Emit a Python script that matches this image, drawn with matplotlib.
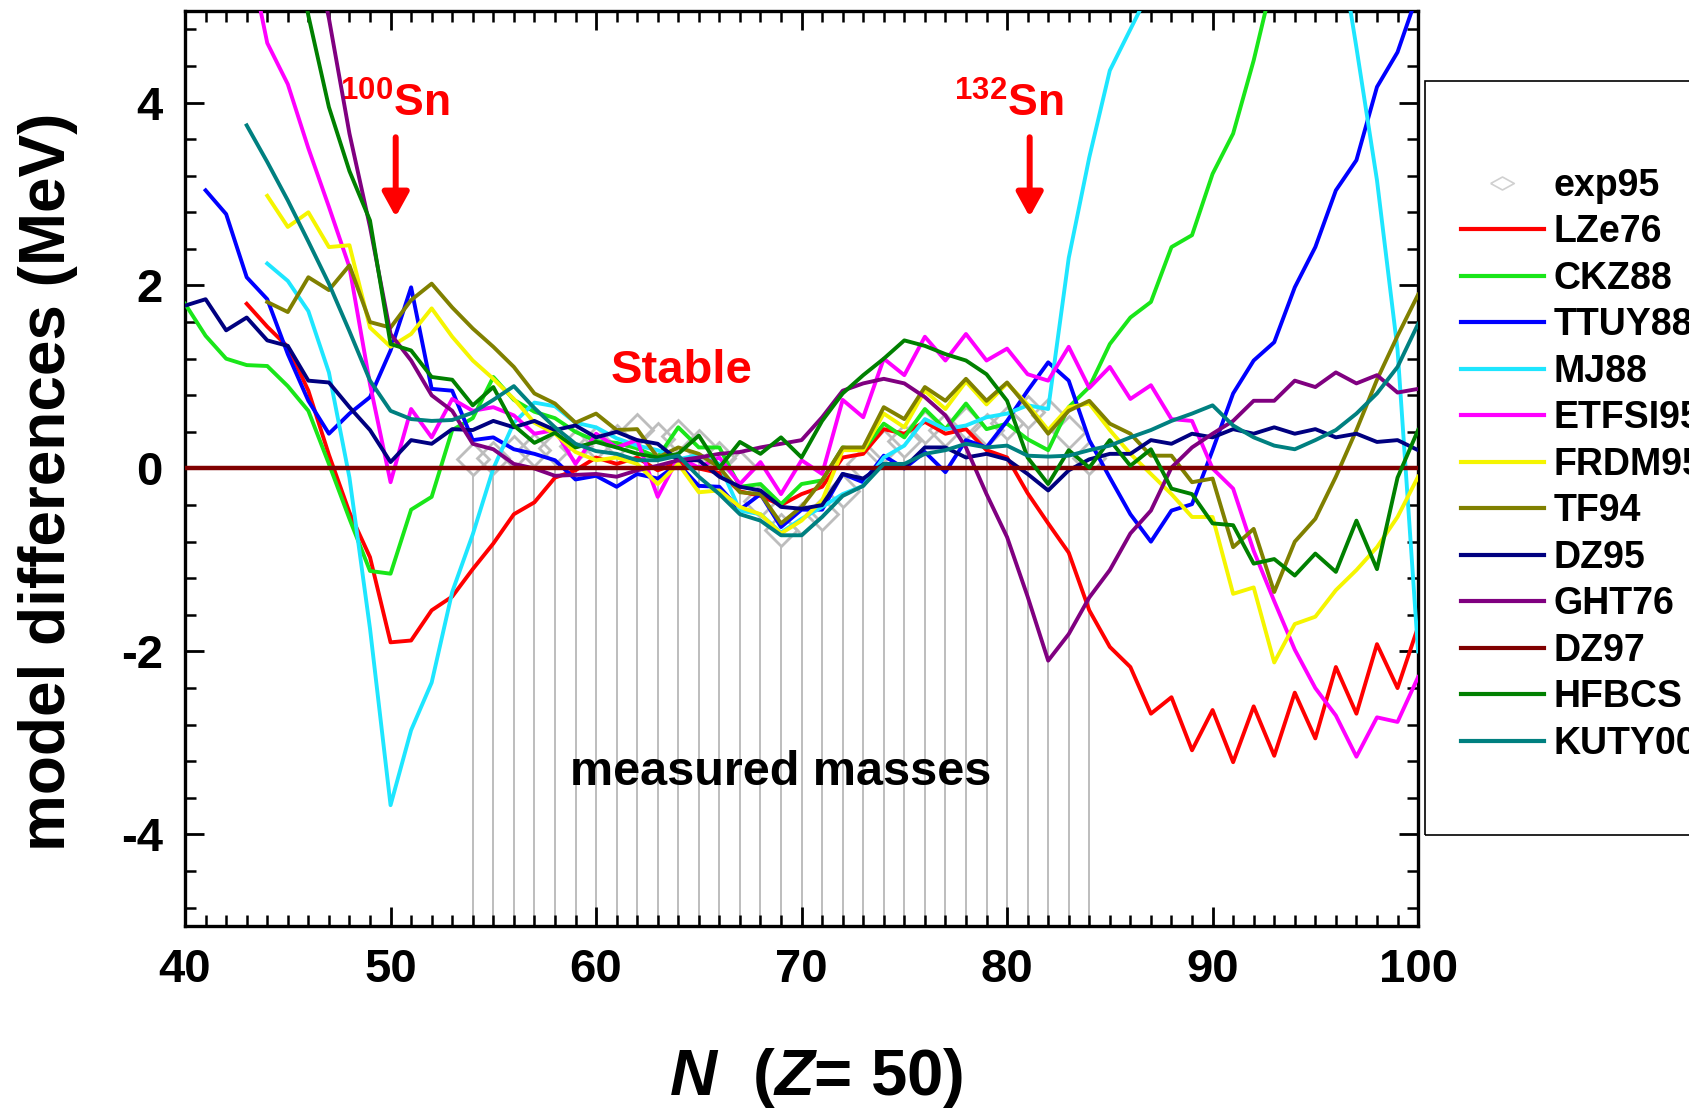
import numpy as np
import matplotlib
matplotlib.use("Agg")
import matplotlib.pyplot as plt
from matplotlib.lines import Line2D
from matplotlib.patches import Rectangle
from matplotlib.ticker import MultipleLocator

plt.rcParams["font.family"] = ["Liberation Sans", "DejaVu Sans"]
plt.rcParams["font.weight"] = "bold"
plt.rcParams["axes.unicode_minus"] = False
plt.rcParams["mathtext.fontset"] = "custom"
plt.rcParams["mathtext.rm"] = "Liberation Sans:bold"
plt.rcParams["mathtext.it"] = "Liberation Sans:bold:italic"
plt.rcParams["mathtext.bf"] = "Liberation Sans:bold"

# measured masses relative to DZ97 (MeV), N = 54..84
exp95_start = 54
exp95 = [0.10, 0.12, 0.18, 0.20, 0.22, 0.25,
         0.28, 0.30, 0.42, 0.32, 0.36, 0.25, 0.12, 0.02, -0.35, -0.67,
         -0.55, -0.50, -0.25, 0.05, 0.25, 0.30, 0.45, 0.42, 0.50, 0.42,
         0.50, 0.62, 0.58, 0.40, 0.12]

# model differences relative to DZ97 (MeV); each list starts at its N and runs up by 1
lze76_start = 43
lze76 = [1.80, 1.55, 1.33, 0.85, 0.15, -0.48, -0.97,
         -1.90, -1.88, -1.55, -1.40, -1.10, -0.82, -0.50, -0.37, -0.10, -0.02,
         0.12, 0.05, 0.12, -0.02, 0.06, 0.00, -0.05, -0.25, -0.30, -0.40,
         -0.28, -0.20, 0.12, 0.16, 0.43, 0.38, 0.51, 0.38, 0.43, 0.20,
         0.12, -0.27, -0.60, -0.92, -1.55, -1.95, -2.17, -2.68, -2.50, -3.08,
         -2.64, -3.21, -2.60, -3.14, -2.45, -2.95, -2.17, -2.68, -1.92, -2.40, -1.73]

ckz88_start = 40
ckz88 = [1.80, 1.45, 1.20, 1.13, 1.12, 0.90, 0.63, 0.05, -0.55, -1.12,
         -1.15, -0.45, -0.31, 0.42, 0.55, 1.00, 0.75, 0.62, 0.55, 0.40,
         0.30, 0.28, 0.22, 0.12, 0.45, 0.23, 0.23, -0.20, -0.17, -0.39,
         -0.17, -0.13, 0.23, 0.20, 0.49, 0.34, 0.65, 0.43, 0.71, 0.43,
         0.49, 0.32, 0.20, 0.67, 0.89, 1.36, 1.65, 1.82, 2.42, 2.55,
         3.22, 3.66, 4.46, 5.40]

ttuy88_start = 41
ttuy88 = [3.04, 2.78, 2.09, 1.85, 1.25, 0.74, 0.38, 0.60, 0.78,
          1.29, 1.98, 0.87, 0.85, 0.31, 0.34, 0.21, 0.16, 0.09, -0.12,
          -0.08, -0.20, -0.06, -0.11, 0.05, -0.19, -0.20, -0.45, -0.28, -0.64,
          -0.45, -0.45, -0.06, -0.15, 0.14, 0.00, 0.18, -0.04, 0.31, 0.23,
          0.52, 0.85, 1.16, 0.96, 0.31, -0.10, -0.50, -0.80, -0.46, -0.39,
          0.20, 0.82, 1.18, 1.38, 1.98, 2.42, 3.04, 3.37, 4.17, 4.55, 5.20]

mj88_start = 44
mj88 = [2.24, 2.05, 1.72, 1.05, -0.10, -1.75,
        -3.68, -2.86, -2.34, -1.35, -0.72, 0.00, 0.50, 0.72, 0.68, 0.50,
        0.45, 0.33, 0.25, 0.20, 0.10, 0.15, 0.05, -0.46, -0.50, -0.70,
        -0.55, -0.42, -0.28, -0.19, 0.12, 0.25, 0.54, 0.43, 0.47, 0.56,
        0.60, 0.69, 0.65, 2.30, 3.40, 4.35, 4.80, 5.25, 5.80, 6.20,
        6.50, 6.70, 6.80, 6.80, 6.70, 6.50, 6.00, 4.60, 3.15, 1.30, -2.00]

etfsi_start = 43
etfsi = [5.75, 4.65, 4.20, 3.50, 2.86, 2.20, 0.92,
         -0.15, 0.65, 0.34, 0.76, 0.63, 0.67, 0.58, 0.38, 0.42, 0.05,
         0.38, 0.23, 0.31, -0.31, 0.12, 0.01, 0.12, -0.17, 0.07, -0.28,
         0.09, -0.06, 0.75, 0.56, 1.20, 1.02, 1.44, 1.18, 1.47, 1.18,
         1.31, 1.03, 0.96, 1.33, 0.88, 1.11, 0.76, 0.91, 0.54, 0.52,
         0.00, -0.22, -0.90, -1.45, -1.98, -2.40, -2.70, -3.15, -2.72, -2.77, -2.28]

frdm_start = 44
frdm = [2.98, 2.64, 2.80, 2.42, 2.44, 1.54,
        1.33, 1.47, 1.75, 1.44, 1.18, 0.98, 0.76, 0.50, 0.38, 0.18,
        0.09, 0.12, 0.05, -0.17, 0.05, -0.26, -0.24, -0.42, -0.50, -0.71,
        -0.57, -0.35, 0.20, 0.20, 0.60, 0.45, 0.85, 0.65, 0.95, 0.70,
        0.93, 0.70, 0.42, 0.67, 0.71, 0.42, 0.16, -0.06, -0.28, -0.53,
        -0.53, -1.37, -1.30, -2.12, -1.70, -1.62, -1.33, -1.11, -0.86, -0.53, -0.09]

tf94_start = 44
tf94 = [1.82, 1.71, 2.09, 1.95, 2.22, 1.60,
        1.54, 1.84, 2.02, 1.76, 1.53, 1.33, 1.11, 0.82, 0.71, 0.50,
        0.60, 0.42, 0.43, 0.12, 0.23, 0.16, 0.01, -0.26, -0.28, -0.60,
        -0.42, -0.13, 0.23, 0.23, 0.67, 0.54, 0.89, 0.74, 0.98, 0.74,
        0.94, 0.67, 0.38, 0.63, 0.74, 0.49, 0.38, 0.14, 0.14, -0.15,
        -0.11, -0.86, -0.66, -1.35, -0.80, -0.55, -0.09, 0.42, 0.97, 1.45, 1.90]

dz95_start = 40
dz95 = [1.78, 1.85, 1.51, 1.65, 1.40, 1.34, 0.96, 0.94, 0.67, 0.42,
        0.07, 0.31, 0.27, 0.43, 0.42, 0.52, 0.45, 0.52, 0.42, 0.47,
        0.34, 0.40, 0.31, 0.27, 0.09, 0.09, -0.09, -0.20, -0.24, -0.42,
        -0.44, -0.40, -0.06, -0.11, 0.05, 0.01, 0.23, 0.23, 0.12, 0.16,
        0.10, -0.06, -0.24, -0.02, 0.10, 0.16, 0.16, 0.31, 0.27, 0.38,
        0.34, 0.43, 0.38, 0.45, 0.38, 0.43, 0.34, 0.38, 0.29, 0.31, 0.20]

ght76_start = 46
ght76 = [6.00, 4.92, 3.66, 2.64,
         1.47, 1.18, 0.80, 0.63, 0.27, 0.21, 0.05, 0.00, -0.08, -0.07,
         -0.06, -0.09, -0.02, 0.03, 0.09, 0.12, 0.16, 0.18, 0.23, 0.27,
         0.31, 0.56, 0.85, 0.93, 0.98, 0.93, 0.78, 0.58, 0.23, -0.28,
         -0.75, -1.40, -2.10, -1.81, -1.41, -1.11, -0.71, -0.46, 0.01, 0.23,
         0.38, 0.52, 0.74, 0.74, 0.96, 0.89, 1.05, 0.93, 1.02, 0.83, 0.87]

# reference model: difference to itself is zero everywhere (N = 40..100)
dz97_start = 40
dz97 = [0.0] * 61

hfbcs_start = 45
hfbcs = [6.20, 4.95, 3.95, 3.25, 2.71,
         1.36, 1.29, 1.00, 0.97, 0.69, 0.89, 0.47, 0.28, 0.39, 0.23,
         0.29, 0.23, 0.16, 0.12, 0.16, 0.36, 0.01, 0.29, 0.16, 0.34,
         0.12, 0.52, 0.82, 1.02, 1.20, 1.40, 1.34, 1.25, 1.18, 1.03,
         0.74, 0.12, -0.17, 0.20, 0.01, 0.31, 0.03, 0.21, -0.22, -0.28,
         -0.60, -0.62, -1.04, -0.99, -1.17, -0.93, -1.13, -0.57, -1.10, -0.10, 0.42]

kuty00_start = 43
kuty00 = [3.75, 3.35, 2.93, 2.48, 2.02, 1.50, 0.96,
          0.63, 0.54, 0.52, 0.53, 0.61, 0.75, 0.90, 0.66, 0.45, 0.27,
          0.19, 0.16, 0.09, 0.09, 0.14, -0.09, -0.28, -0.50, -0.57, -0.73,
          -0.73, -0.53, -0.30, -0.19, 0.05, 0.05, 0.16, 0.20, 0.27, 0.23,
          0.25, 0.14, 0.13, 0.14, 0.20, 0.25, 0.34, 0.42, 0.52, 0.60,
          0.69, 0.47, 0.34, 0.25, 0.21, 0.31, 0.42, 0.60, 0.82, 1.11, 1.58]

models = [
    ("LZe76", lze76_start, lze76, "#ff0000"),
    ("CKZ88", ckz88_start, ckz88, "#19e619"),
    ("TTUY88", ttuy88_start, ttuy88, "#0000ff"),
    ("MJ88", mj88_start, mj88, "#1ee6ff"),
    ("ETFSI95", etfsi_start, etfsi, "#ff00ff"),
    ("FRDM95", frdm_start, frdm, "#f5f500"),
    ("TF94", tf94_start, tf94, "#808000"),
    ("DZ95", dz95_start, dz95, "#000080"),
    ("GHT76", ght76_start, ght76, "#800080"),
    ("DZ97", dz97_start, dz97, "#800000"),
    ("HFBCS", hfbcs_start, hfbcs, "#008000"),
    ("KUTY00", kuty00_start, kuty00, "#008080"),
]

fig = plt.figure(figsize=(16.9, 11.12), dpi=100)
ax = fig.add_axes([0.1095, 0.1673, 0.7296, 0.8228])

gray = "#bdbdbd"
n_exp = exp95_start + np.arange(len(exp95))
ax.vlines(n_exp, -5, np.array(exp95) - 0.17, color=gray, lw=1.4, zorder=1)
ax.plot(n_exp, exp95, ls="none", marker="D", ms=16, mfc="none", mec=gray,
        mew=2.0, zorder=2)

handles = [Line2D([], [], ls="none", marker=[(-1, 0), (0, 0.55), (1, 0), (0, -0.55), (-1, 0)],
                  ms=17, mfc="none", mec="#d0d0d0", mew=1.2, label="exp95")]
for i, (name, start, vals, col) in enumerate(models):
    n = start + np.arange(len(vals))
    lw = 3.2 if name == "DZ97" else 2.8
    line, = ax.plot(n, vals, color=col, lw=lw, label=name, zorder=3 + i)
    handles.append(line)

ax.set_xlim(40, 100)
ax.set_ylim(-5, 5)
ax.xaxis.set_major_locator(MultipleLocator(10))
ax.xaxis.set_minor_locator(MultipleLocator(1))
ax.yaxis.set_major_locator(MultipleLocator(2))
ax.yaxis.set_minor_locator(MultipleLocator(0.4))
ax.tick_params(which="both", direction="in", top=True, right=True)
ax.tick_params(which="major", length=14, width=2.0, labelsize=34, pad=16)
ax.tick_params(which="minor", length=8, width=1.8)
for lab in ax.get_xticklabels() + ax.get_yticklabels():
    lab.set_fontweight("bold")
for sp in ax.spines.values():
    sp.set_linewidth(2.4)

fig.text(0.0284, 0.5665, "model differences (MeV)", rotation=90, fontsize=46,
         fontweight="bold", ha="center", va="center")
fig.text(0.483, 0.0306, r"$N$  ($Z$= 50)", fontsize=47, fontweight="bold",
         ha="center", va="center")

# annotations
red = "#ff0000"
ax.text(50.22, 3.84, r"$^{100}$Sn", color=red, fontsize=32, fontweight="bold",
        ha="center", va="baseline")
ax.text(80.1, 3.84, r"$^{132}$Sn", color=red, fontsize=32, fontweight="bold",
        ha="center", va="baseline")
arrow = dict(arrowstyle="-|>,head_length=0.58,head_width=0.32", color=red,
             lw=4.3, shrinkA=0, shrinkB=0, mutation_scale=25)
ax.annotate("", xy=(50.25, 2.75), xytext=(50.25, 3.62), arrowprops=arrow, zorder=20)
ax.annotate("", xy=(81.1, 2.75), xytext=(81.1, 3.62), arrowprops=arrow, zorder=20)
ax.text(64.14, 1.07, "Stable", color=red, fontsize=34, fontweight="bold",
        ha="center", va="center", zorder=20)
ax.text(69.0, -3.32, "measured masses", color="black", fontsize=35,
        fontweight="bold", ha="center", va="center", zorder=20)

# legend, partly cut off by the right edge of the figure (as in the original)
leg = ax.legend(handles=handles, loc="upper left", bbox_to_anchor=(0.8645, 0.849),
                bbox_transform=fig.transFigure, frameon=False, borderpad=0,
                fontsize=27, handlelength=2.2, handletextpad=0.27,
                labelspacing=0.28, borderaxespad=0)
for t in leg.get_texts():
    t.set_fontweight("bold")
for h in leg.legend_handles[1:]:
    h.set_linewidth(3.0)
fig.add_artist(Rectangle((0.8432, 0.249), 0.3, 0.678, transform=fig.transFigure,
                         fill=False, lw=1.2, ec="black"))

fig.savefig("out.png", dpi=100)
